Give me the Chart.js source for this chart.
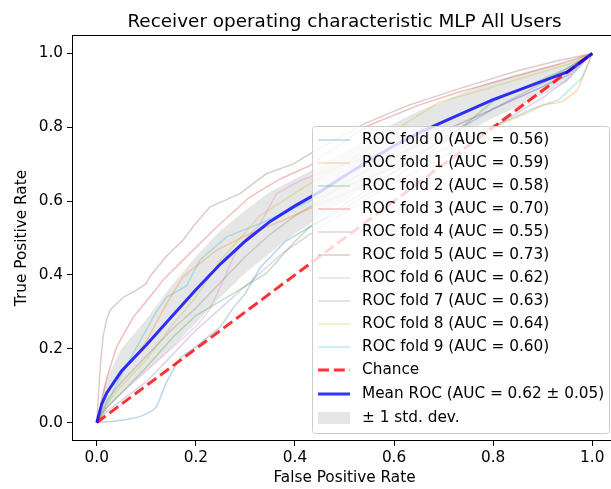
<!DOCTYPE html>
<html lang="en">
<head>
    <meta charset="utf-8">
    <title>Receiver operating characteristic MLP All Users</title>
    <!-- Chart.js -->
    <script src="https://cdn.jsdelivr.net/npm/chart.js"></script>
    <style>
        html, body {
            margin: 0;
            padding: 0;
            background: #ffffff;
            overflow: hidden;
        }
        #wrap {
            width: 620px;
            height: 489px;
        }
    </style>
</head>
<body>

    <div id="wrap"><canvas id="rocChart" width="620" height="489"></canvas></div>

    <script>
        // ROC curve of each fold
        const fold0Fpr = [0, 0.03, 0.06, 0.087, 0.11, 0.121, 0.141, 0.168, 0.2, 0.25, 0.275, 0.3, 0.33, 0.38, 0.43, 0.5, 0.6, 0.7, 0.8, 0.9, 0.95, 1];
        const fold0Tpr = [0, 0.003, 0.008, 0.016, 0.03, 0.043, 0.11, 0.175, 0.205, 0.26, 0.31, 0.35, 0.42, 0.49, 0.53, 0.59, 0.68, 0.77, 0.85, 0.91, 0.94, 1];
        const fold1Fpr = [0, 0.01, 0.03, 0.06, 0.1, 0.14, 0.174, 0.242, 0.309, 0.376, 0.43, 0.5, 0.6, 0.7, 0.8, 0.87, 0.9, 0.94, 0.97, 1];
        const fold1Tpr = [0, 0.05, 0.1, 0.15, 0.22, 0.32, 0.395, 0.467, 0.512, 0.548, 0.58, 0.62, 0.68, 0.74, 0.8, 0.84, 0.86, 0.87, 0.9, 1];
        const fold2Fpr = [0, 0.02, 0.05, 0.1, 0.154, 0.2, 0.27, 0.342, 0.396, 0.43, 0.5, 0.6, 0.7, 0.8, 0.85, 0.9, 0.95, 1];
        const fold2Tpr = [0, 0.04, 0.08, 0.15, 0.232, 0.29, 0.345, 0.404, 0.485, 0.53, 0.58, 0.66, 0.76, 0.87, 0.9, 0.93, 0.96, 1];
        const fold3Fpr = [0, 0.01, 0.02, 0.04, 0.074, 0.107, 0.134, 0.174, 0.242, 0.309, 0.37, 0.43, 0.54, 0.65, 0.73, 0.85, 0.93, 1];
        const fold3Tpr = [0, 0.06, 0.12, 0.205, 0.286, 0.34, 0.386, 0.44, 0.53, 0.611, 0.66, 0.696, 0.8, 0.86, 0.895, 0.94, 0.97, 1];
        const fold4Fpr = [0, 0.02, 0.05, 0.1, 0.15, 0.2, 0.25, 0.3, 0.376, 0.43, 0.5, 0.6, 0.7, 0.8, 0.9, 0.95, 1];
        const fold4Tpr = [0, 0.03, 0.06, 0.11, 0.18, 0.25, 0.31, 0.37, 0.46, 0.51, 0.57, 0.65, 0.72, 0.8, 0.88, 0.93, 1];
        const fold5Fpr = [0, 0.004, 0.008, 0.013, 0.02, 0.027, 0.054, 0.08, 0.1, 0.107, 0.14, 0.174, 0.2, 0.228, 0.289, 0.342, 0.396, 0.43, 0.54, 0.63, 0.73, 0.85, 0.93, 1];
        const fold5Tpr = [0, 0.09, 0.17, 0.235, 0.28, 0.305, 0.34, 0.359, 0.377, 0.395, 0.45, 0.494, 0.54, 0.584, 0.62, 0.674, 0.7, 0.728, 0.81, 0.86, 0.904, 0.953, 0.98, 1];
        const fold6Fpr = [0, 0.02, 0.05, 0.1, 0.15, 0.2, 0.228, 0.26, 0.282, 0.33, 0.363, 0.41, 0.5, 0.6, 0.7, 0.8, 0.9, 0.95, 1];
        const fold6Tpr = [0, 0.04, 0.08, 0.14, 0.2, 0.26, 0.305, 0.4, 0.467, 0.54, 0.62, 0.655, 0.7, 0.74, 0.79, 0.85, 0.91, 0.95, 1];
        const fold7Fpr = [0, 0.02, 0.05, 0.1, 0.15, 0.2, 0.25, 0.3, 0.35, 0.4, 0.45, 0.5, 0.6, 0.7, 0.8, 0.9, 0.95, 1];
        const fold7Tpr = [0, 0.06, 0.11, 0.18, 0.25, 0.31, 0.38, 0.45, 0.51, 0.56, 0.6, 0.65, 0.72, 0.79, 0.85, 0.92, 0.96, 1];
        const fold8Fpr = [0, 0.02, 0.05, 0.1, 0.15, 0.2, 0.25, 0.329, 0.43, 0.5, 0.6, 0.691, 0.75, 0.8, 0.9, 0.95, 1];
        const fold8Tpr = [0, 0.05, 0.1, 0.17, 0.26, 0.34, 0.44, 0.56, 0.647, 0.7, 0.79, 0.868, 0.89, 0.91, 0.95, 0.97, 1];
        const fold9Fpr = [0, 0.02, 0.05, 0.087, 0.12, 0.141, 0.181, 0.208, 0.262, 0.329, 0.43, 0.5, 0.6, 0.7, 0.78, 0.846, 0.879, 0.933, 0.98, 0.994, 1];
        const fold9Tpr = [0, 0.05, 0.13, 0.22, 0.3, 0.34, 0.37, 0.44, 0.503, 0.539, 0.6, 0.64, 0.69, 0.74, 0.79, 0.83, 0.85, 0.875, 0.935, 0.98, 1];

        const foldAuc = [0.56, 0.59, 0.58, 0.70, 0.55, 0.73, 0.62, 0.63, 0.64, 0.60];

        // mean ROC and the +/- 1 std band
        const meanFpr  = [0, 0.01, 0.02, 0.05, 0.1, 0.15, 0.2, 0.25, 0.3, 0.35, 0.4, 0.45, 0.5, 0.55, 0.6, 0.65, 0.7, 0.75, 0.8, 0.85, 0.9, 0.95, 1];
        const meanTpr  = [0, 0.05, 0.08, 0.14, 0.21, 0.285, 0.36, 0.43, 0.492, 0.545, 0.587, 0.625, 0.668, 0.71, 0.75, 0.785, 0.815, 0.845, 0.875, 0.9, 0.925, 0.95, 1];
        const stdUpper = [0, 0.08, 0.12, 0.2, 0.28, 0.37, 0.45, 0.52, 0.575, 0.625, 0.66, 0.695, 0.735, 0.77, 0.81, 0.845, 0.87, 0.9, 0.925, 0.945, 0.962, 0.977, 1];
        const stdLower = [0, 0.02, 0.04, 0.08, 0.14, 0.2, 0.27, 0.34, 0.405, 0.46, 0.512, 0.555, 0.6, 0.65, 0.69, 0.725, 0.76, 0.79, 0.825, 0.855, 0.888, 0.923, 1];
        const meanAuc = 0.62;
        const meanAucStd = 0.05;

        // chance diagonal
        const chanceFpr = [0, 1];
        const chanceTpr = [0, 1];

        const axisTicks = [0, 0.2, 0.4, 0.6, 0.8, 1.0];

        const FONT = "'DejaVu Sans', sans-serif";
        const foldRgb = ['31,119,180', '255,127,14', '44,160,44', '214,39,40', '148,103,189',
                         '140,86,75', '227,119,194', '127,127,127', '188,189,34', '23,190,207'];

        const foldFpr = [fold0Fpr, fold1Fpr, fold2Fpr, fold3Fpr, fold4Fpr, fold5Fpr, fold6Fpr, fold7Fpr, fold8Fpr, fold9Fpr];
        const foldTpr = [fold0Tpr, fold1Tpr, fold2Tpr, fold3Tpr, fold4Tpr, fold5Tpr, fold6Tpr, fold7Tpr, fold8Tpr, fold9Tpr];

        function toPoints(xs, ys) {
            return xs.map((x, i) => ({ x: x, y: ys[i] }));
        }

        const datasets = [];
        const legendItems = [];

        foldFpr.forEach((fpr, i) => {
            const ds = {
                label: `ROC fold ${i} (AUC = ${foldAuc[i].toFixed(2)})`,
                data: toPoints(fpr, foldTpr[i]),
                borderColor: `rgba(${foldRgb[i]},0.3)`,
                borderWidth: 1.5,
                order: 2
            };
            datasets.push(ds);
            legendItems.push({ kind: 'line', ds: ds });
        });

        const chanceDs = {
            label: 'Chance',
            data: toPoints(chanceFpr, chanceTpr),
            borderColor: 'rgba(255,0,0,0.8)',
            borderWidth: 3,
            borderDash: [11, 4.8],
            order: 1
        };
        const meanDs = {
            label: `Mean ROC (AUC = ${meanAuc.toFixed(2)} \u00b1 ${meanAucStd.toFixed(2)})`,
            data: toPoints(meanFpr, meanTpr),
            borderColor: 'rgba(0,0,255,0.8)',
            borderWidth: 3,
            order: 0
        };
        const upperDs = {
            label: '\u00b1 1 std. dev.',
            data: toPoints(meanFpr, stdUpper),
            borderColor: 'rgba(0,0,0,0)',
            backgroundColor: 'rgba(128,128,128,0.2)',
            borderWidth: 1,
            fill: '+1',
            order: 3
        };
        const lowerDs = {
            label: 'lower',
            data: toPoints(meanFpr, stdLower),
            borderColor: 'rgba(0,0,0,0)',
            borderWidth: 1,
            fill: false,
            order: 3
        };
        datasets.push(chanceDs, meanDs, upperDs, lowerDs);
        legendItems.push({ kind: 'line', ds: chanceDs });
        legendItems.push({ kind: 'line', ds: meanDs });
        legendItems.push({ kind: 'patch', ds: upperDs });

        datasets.forEach(ds => {
            ds.showLine = true;
            ds.pointRadius = 0;
            ds.pointHoverRadius = 0;
            ds.tension = 0;
        });

        // title, frame and legend drawn by hand, matplotlib style
        const decorPlugin = {
            id: 'decor',
            afterDatasetsDraw(chart) {
                const { ctx, chartArea: a } = chart;
                ctx.save();
                ctx.strokeStyle = '#000';
                ctx.lineWidth = 1;
                ctx.strokeRect(a.left + 0.5, a.top + 0.5, a.right - a.left - 1, a.bottom - a.top - 1);
                ctx.restore();
            },
            afterDraw(chart) {
                const { ctx, chartArea: a } = chart;
                ctx.save();

                // title
                ctx.fillStyle = '#000';
                ctx.font = `18.4px ${FONT}`;
                ctx.textAlign = 'center';
                ctx.textBaseline = 'alphabetic';
                ctx.fillText('Receiver operating characteristic MLP All Users', (a.left + a.right) / 2, 27);

                // legend box (lower right)
                const boxW = 297, boxH = 307;
                const boxL = a.right - 8 - boxW;
                const boxT = a.bottom - 8 - boxH;
                ctx.beginPath();
                ctx.roundRect(boxL + 0.5, boxT + 0.5, boxW, boxH, 3);
                ctx.fillStyle = 'rgba(255,255,255,0.8)';
                ctx.fill();
                ctx.strokeStyle = '#cccccc';
                ctx.lineWidth = 1;
                ctx.stroke();

                ctx.font = `15.3px ${FONT}`;
                ctx.textAlign = 'left';
                ctx.textBaseline = 'middle';
                legendItems.forEach((item, i) => {
                    let y = boxT + 14 + i * 23;
                    if (i === 11) y = boxT + 268;
                    if (i === 12) y = boxT + 292;
                    const ds = item.ds;
                    if (item.kind === 'line') {
                        ctx.beginPath();
                        ctx.setLineDash(ds.borderDash || []);
                        ctx.strokeStyle = ds.borderColor;
                        ctx.lineWidth = ds.borderWidth;
                        ctx.moveTo(boxL + 6, y);
                        ctx.lineTo(boxL + 38, y);
                        ctx.stroke();
                        ctx.setLineDash([]);
                    } else {
                        ctx.fillStyle = ds.backgroundColor;
                        ctx.fillRect(boxL + 6, y - 6, 32, 12);
                    }
                    ctx.fillStyle = '#000';
                    ctx.fillText(ds.label, boxL + 50, y);
                });
                ctx.restore();
            }
        };

        function axisOptions(title, isX) {
            return {
                type: 'linear',
                min: -0.05,
                max: 1.05,
                afterBuildTicks: scale => { scale.ticks = axisTicks.map(v => ({ value: v })); },
                afterFit: scale => {
                    if (isX) scale.height = 48; else scale.width = 72;
                },
                ticks: {
                    callback: v => v.toFixed(1),
                    color: '#000',
                    font: { family: FONT, size: 15.3 },
                    padding: isX ? 3 : 4,
                    maxRotation: 0,
                    autoSkip: false
                },
                grid: { drawOnChartArea: false, drawTicks: true, tickLength: 5, color: '#000', lineWidth: 1 },
                border: { display: false },
                title: {
                    display: true,
                    text: title,
                    color: '#000',
                    font: { family: FONT, size: 15.3 },
                    padding: isX ? { top: 0, bottom: 2 } : { top: 13, bottom: 0 }
                }
            };
        }

        const ctx = document.getElementById('rocChart').getContext('2d');
        const rocChart = new Chart(ctx, {
            type: 'scatter',
            data: { datasets: datasets },
            options: {
                responsive: false,
                animation: false,
                devicePixelRatio: 1,
                layout: { padding: { top: 35, right: 3, left: 0, bottom: 0 } },
                scales: {
                    x: axisOptions('False Positive Rate', true),
                    y: axisOptions('True Positive Rate', false)
                },
                plugins: {
                    legend: { display: false },
                    tooltip: { enabled: false },
                    filler: { drawTime: 'beforeDatasetsDraw' }
                }
            },
            plugins: [decorPlugin]
        });
    </script>

</body>
</html>
